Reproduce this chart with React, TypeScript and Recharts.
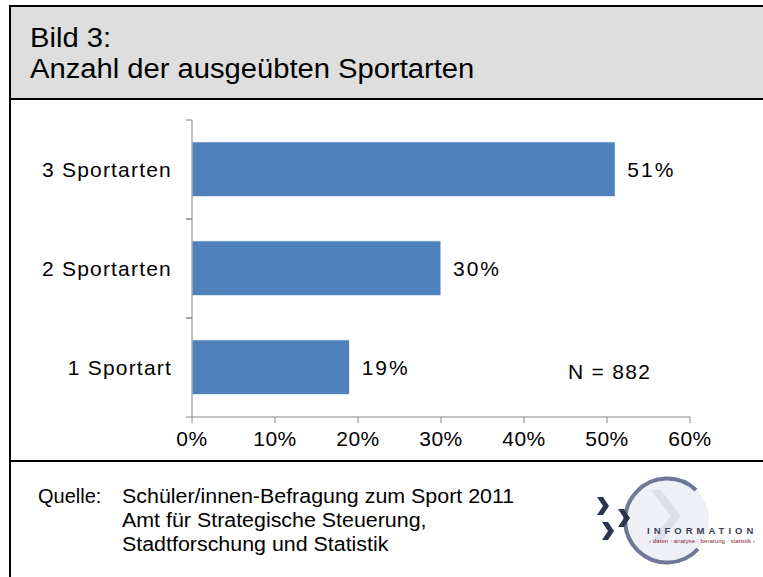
import React from "react";
import {
  Bar,
  BarChart,
  LabelList,
  XAxis,
  YAxis,
} from "recharts";

const categories = ["3 Sportarten", "2 Sportarten", "1 Sportart"];
const shares = [51, 30, 19];
const xTicks = [0, 10, 20, 30, 40, 50, 60];

const data = categories.map((name, i) => ({ name, share: shares[i] }));

const font = "'Liberation Sans', Arial, sans-serif";
const axisGray = "#868686";
const barBlue = "#4F81BD";
const labelGap = 20;

// category label plus the small tick marks at the band edges
function CategoryTick(props: any) {
  const { x, y, payload } = props;
  const half = payload?.offset ?? 0;
  const ax = x + labelGap;
  return (
    <g>
      <line x1={ax - 6} x2={ax} y1={y - half} y2={y - half} stroke={axisGray} />
      <line x1={ax - 6} x2={ax} y1={y + half} y2={y + half} stroke={axisGray} />
      <text
        x={x}
        y={y}
        dy="0.35em"
        textAnchor="end"
        fill="#000"
        fontSize={21}
        fontFamily={font}
        letterSpacing={1.2}
      >
        {payload.value}
      </text>
    </g>
  );
}

function Chevron({ x, y }: { x: number; y: number }) {
  return (
    <path
      d={`M ${x} ${y} L ${x + 6} ${y} L ${x + 12} ${y + 9} L ${x + 6} ${y + 18} L ${x} ${y + 18} L ${x + 6} ${y + 9} Z`}
      fill="#2c3550"
    />
  );
}

function Logo() {
  return (
    <svg width={178} height={100} viewBox="0 0 178 100">
      <circle cx={82} cy={50} r={42} fill="#eef0f5" />
      <path d="M 66 20 L 86 46 L 66 72 L 76 72 L 96 46 L 76 20 Z" fill="#dcdfe8" />
      <path
        d="M 111 20 A 42 42 0 1 0 113 79"
        fill="none"
        stroke="#6f7796"
        strokeWidth={4}
      />
      <Chevron x={12} y={27} />
      <Chevron x={33} y={39} />
      <Chevron x={17} y={52} />
      <text
        x={62}
        y={64}
        fontFamily={font}
        fontSize={9.5}
        fontWeight="bold"
        letterSpacing={4}
        fill="#3b4257"
      >
        INFORMATION
      </text>
      <text x={64} y={73} fontFamily={font} fontSize={6.2} fill="#8a2a3a">
        ‹ daten · analyse · beratung · statistik ›
      </text>
    </svg>
  );
}

export default function App() {
  return (
    <div
      style={{
        position: "absolute",
        left: 0,
        top: 0,
        width: 763,
        height: 577,
        overflow: "hidden",
        background: "#fff",
        fontFamily: font,
      }}
    >
      {/* outer frame, runs past the right and bottom edge */}
      <div
        style={{
          position: "absolute",
          left: 9,
          top: 5,
          width: 800,
          height: 600,
          borderLeft: "2px solid #000",
          borderTop: "2px solid #000",
        }}
      />
      <div
        style={{
          position: "absolute",
          left: 11,
          top: 7,
          width: 760,
          height: 91,
          background: "#dedede",
          borderBottom: "2px solid #000",
        }}
      />
      <div
        style={{
          position: "absolute",
          left: 30,
          top: 23,
          fontSize: 27,
          lineHeight: "31px",
          color: "#000",
          transform: "scaleX(1.08)",
          transformOrigin: "left top",
        }}
      >
        <div>Bild 3:</div>
        <div>Anzahl der ausgeübten Sportarten</div>
      </div>

      <div style={{ position: "absolute", left: 0, top: 100 }}>
        <BarChart
          width={763}
          height={360}
          data={data}
          layout="vertical"
          margin={{ top: 20, right: 73, bottom: 0, left: 0 }}
          barCategoryGap="22%"
        >
          <XAxis
            type="number"
            domain={[0, 60]}
            ticks={xTicks}
            tickFormatter={(v: number) => `${v}%`}
            height={43}
            tickSize={6}
            tickMargin={8}
            stroke={axisGray}
            tick={{ fill: "#000", fontSize: 21, fontFamily: font, letterSpacing: 0.5 }}
          />
          <YAxis
            type="category"
            dataKey="name"
            width={192}
            stroke={axisGray}
            tickLine={false}
            tickSize={0}
            tickMargin={labelGap}
            tick={<CategoryTick />}
          />
          <Bar
            dataKey="share"
            fill={barBlue}
            stroke="#ffffff"
            strokeWidth={1}
            isAnimationActive={false}
          >
            <LabelList
              dataKey="share"
              position="right"
              offset={12}
              formatter={(v: number) => `${v}%`}
              style={{ fill: "#000", fontSize: 21, fontFamily: font, letterSpacing: 2 }}
            />
          </Bar>
        </BarChart>
      </div>

      <div
        style={{
          position: "absolute",
          left: 568,
          top: 360,
          fontSize: 21,
          letterSpacing: 1.3,
          color: "#000",
        }}
      >
        N = 882
      </div>

      {/* footer */}
      <div
        style={{
          position: "absolute",
          left: 11,
          top: 460,
          width: 760,
          borderTop: "2px solid #000",
        }}
      />
      <div
        style={{
          position: "absolute",
          left: 38,
          top: 484,
          fontSize: 20,
          lineHeight: "24px",
          color: "#000",
        }}
      >
        Quelle:
      </div>
      <div
        style={{
          position: "absolute",
          left: 122,
          top: 484,
          fontSize: 20,
          lineHeight: "24px",
          color: "#000",
          transform: "scaleX(1.07)",
          transformOrigin: "left top",
        }}
      >
        <div>Schüler/innen-Befragung zum Sport 2011</div>
        <div>Amt für Strategische Steuerung,</div>
        <div>Stadtforschung und Statistik</div>
      </div>
      <div style={{ position: "absolute", left: 585, top: 470 }}>
        <Logo />
      </div>
    </div>
  );
}
